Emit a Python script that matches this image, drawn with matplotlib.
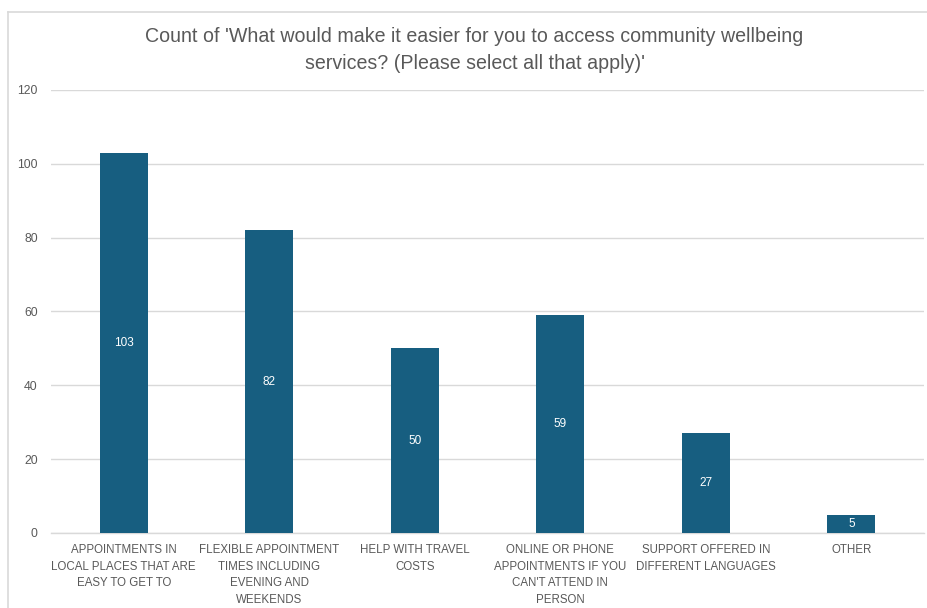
import matplotlib
matplotlib.use("Agg")
import matplotlib.pyplot as plt
from matplotlib.lines import Line2D

categories = [
    "APPOINTMENTS IN\nLOCAL PLACES THAT ARE\nEASY TO GET TO",
    "FLEXIBLE APPOINTMENT\nTIMES INCLUDING\nEVENING AND\nWEEKENDS",
    "HELP WITH TRAVEL\nCOSTS",
    "ONLINE OR PHONE\nAPPOINTMENTS IF YOU\nCAN'T ATTEND IN\nPERSON",
    "SUPPORT OFFERED IN\nDIFFERENT LANGUAGES",
    "OTHER",
]
counts = [103, 82, 50, 59, 27, 5]
y_ticks = [0, 20, 40, 60, 80, 100, 120]
title = ("Count of 'What would make it easier for you to access community wellbeing\n"
         "services? (Please select all that apply)'")

bar_color = "#175e80"
grid_color = "#d9d9d9"
text_color = "#595959"

fig = plt.figure(figsize=(9.27, 6.08), dpi=100)
ax = fig.add_axes([0.055, 0.1234, 0.942, 0.7286])

x = list(range(len(categories)))
bars = ax.bar(x, counts, width=0.33, color=bar_color, zorder=3)

for rect, v in zip(bars, counts):
    ax.text(rect.get_x() + rect.get_width() / 2, v / 2, str(v),
            ha="center", va="center", color="white", fontsize=8.5,
            family="Liberation Sans", zorder=4)

ax.set_xlim(-0.5, len(categories) - 0.5)
ax.set_ylim(0, 120)
ax.set_yticks(y_ticks)
ax.set_yticklabels([str(t) for t in y_ticks], color=text_color, fontsize=8.8,
                   family="Liberation Sans")
ax.set_xticks(x)
ax.set_xticklabels(categories, color=text_color, fontsize=8.3, linespacing=1.5,
                   family="Liberation Sans")
ax.tick_params(axis="both", length=0)
ax.tick_params(axis="y", pad=9.5)
ax.tick_params(axis="x", pad=8)

ax.yaxis.grid(True, color=grid_color, linewidth=1, zorder=0)
for s in ["top", "right", "left"]:
    ax.spines[s].set_visible(False)
ax.spines["bottom"].set_color(grid_color)
ax.spines["bottom"].set_linewidth(1)

fig.text(0.512, 0.918, title, ha="center", va="center", color=text_color,
         fontsize=14.1, family="Liberation Sans", linespacing=1.5)

# chart-area border
fig.add_artist(Line2D([8 / 927, 8 / 927], [0, 1 - 12 / 608], transform=fig.transFigure,
                      color=grid_color, linewidth=1.2))
fig.add_artist(Line2D([8 / 927, 1], [1 - 12 / 608, 1 - 12 / 608], transform=fig.transFigure,
                      color=grid_color, linewidth=1.2))

fig.savefig("out.png", dpi=100, facecolor="white")
